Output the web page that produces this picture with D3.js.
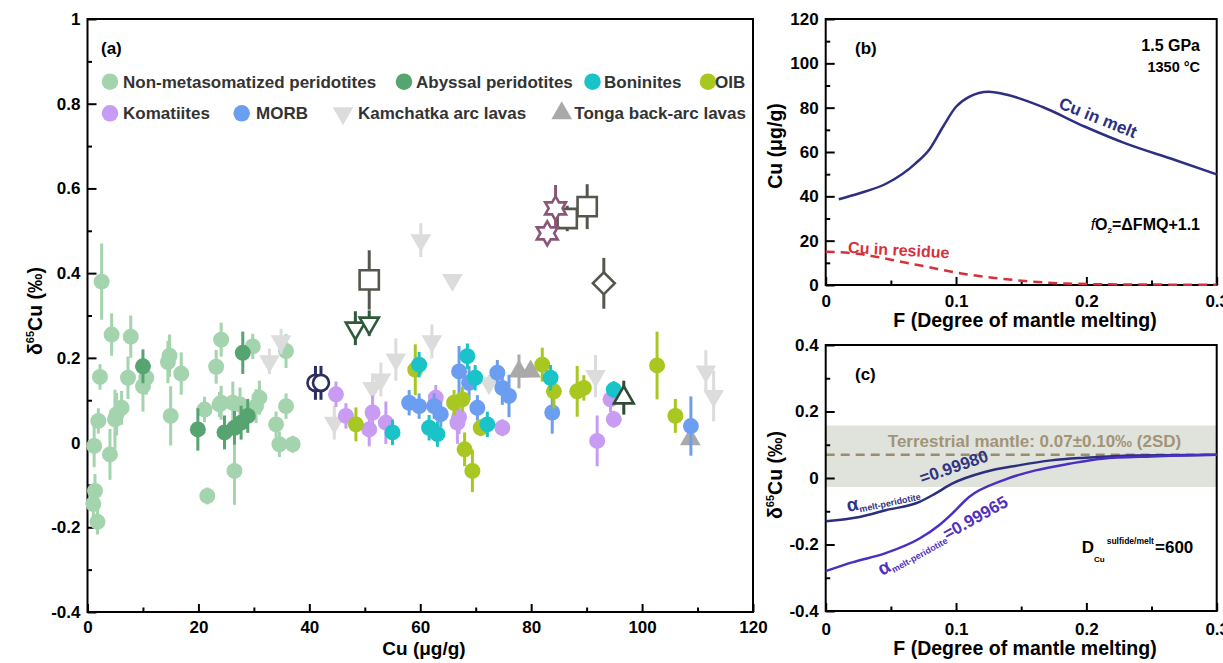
<!DOCTYPE html>
<html>
<head>
<meta charset="utf-8">
<script src="https://cdn.jsdelivr.net/npm/d3@7"></script>
<style>
body { margin: 0; background: #fff; }
svg { display: block; font-family: "Liberation Sans", Arial, sans-serif; font-weight: bold; }
</style>
</head>
<body>
<script>
// ---- panel (a) data: [Cu (ug/g), d65Cu (permil), error] ----
const nonMeta = [
  [2.55, 0.38, 0.09], [4.35, 0.255, 0.05], [7.8, 0.25, 0.05], [10.6, 0.153, 0.04], [10.0, 0.133, 0.06],
  [7.3, 0.153, 0.05], [2.25, 0.155, 0.03], [14.8, 0.205, 0.05], [14.5, 0.19, 0.05], [16.9, 0.163, 0.05],
  [15.0, 0.063, 0.07], [24.1, 0.243, 0.04], [23.2, 0.179, 0.04], [6.15, 0.082, 0.04], [5.25, 0.067, 0.05],
  [4.95, 0.055, 0.07], [1.95, 0.051, 0.03], [1.2, -0.008, 0.05], [4.05, -0.028, 0.06], [1.35, -0.114, 0.04],
  [1.05, -0.145, 0.04], [1.8, -0.187, 0.03], [21.6, -0.126, 0.02], [24.1, 0.094, 0.04], [26.5, -0.067, 0.08],
  [29.8, 0.227, 0.03], [35.8, 0.216, 0.04], [31.0, 0.106, 0.04], [30.4, 0.086, 0.04], [35.8, 0.086, 0.03],
  [34.0, 0.043, 0.03], [34.6, -0.004, 0.03], [37.0, -0.004, 0.02], [21.1, 0.078, 0.03], [23.8, 0.09, 0.03],
  [26.2, 0.094, 0.05], [27.5, 0.09, 0.04]
];
const abyssal = [
  [10.0, 0.18, 0.04], [28.0, 0.212, 0.05], [28.9, 0.063, 0.04], [27.7, 0.047, 0.04],
  [26.5, 0.035, 0.04], [19.9, 0.031, 0.05], [24.7, 0.024, 0.04]
];
const kamchatka = [
  [60.1, 0.478, 0.04], [65.8, 0.384, 0], [62.1, 0.239, 0.04], [55.6, 0.196, 0.05], [52.9, 0.149, 0.04],
  [51.4, 0.129, 0.03], [44.5, 0.047, 0.04], [34.9, 0.239, 0.03], [32.8, 0.192, 0.03], [91.6, 0.157, 0.05],
  [111.5, 0.168, 0.05], [112.9, 0.11, 0.06], [72.4, 0.14, 0.02]
];
const tonga = [[77.8, 0.168, 0.04], [79.9, 0.168, 0], [108.7, 0.008, 0]];
const komatiites = [
  [44.8, 0.114, 0.03], [46.6, 0.063, 0.03], [51.4, 0.071, 0.04], [50.8, 0.031, 0.04], [53.8, 0.047, 0.05],
  [62.8, 0.106, 0.03], [66.7, 0.047, 0.05], [74.8, 0.035, 0.02], [91.9, 0.004, 0.06], [94.3, 0.102, 0.03],
  [94.9, 0.055, 0.02], [67.0, 0.06, 0.04]
];
const morb = [
  [67.0, 0.168, 0.06], [68.8, 0.141, 0.04], [73.9, 0.165, 0.03], [74.8, 0.129, 0.04], [76.0, 0.11, 0.05],
  [58.0, 0.094, 0.03], [59.8, 0.086, 0.03], [62.5, 0.086, 0.03], [63.7, 0.067, 0.03], [70.3, 0.082, 0.03],
  [83.8, 0.071, 0.05], [108.8, 0.039, 0.07]
];
const oib = [
  [48.4, 0.043, 0.04], [59.1, 0.172, 0.06], [66.1, 0.094, 0.03], [67.6, 0.102, 0.03], [70.9, 0.035, 0.02],
  [68.0, -0.016, 0.04], [69.4, -0.067, 0.05], [82.0, 0.184, 0.04], [84.1, 0.121, 0.04], [88.3, 0.121, 0.06],
  [89.5, 0.129, 0.03], [102.7, 0.182, 0.08], [106.0, 0.063, 0.04]
];
const boninites = [
  [59.8, 0.184, 0.03], [68.5, 0.204, 0.03], [69.9, 0.153, 0.03], [55.0, 0.024, 0.03], [61.6, 0.035, 0.03],
  [63.1, 0.02, 0.03], [72.1, 0.043, 0.03], [83.5, 0.153, 0.03], [94.9, 0.125, 0.02]
];
// open symbols (other samples)
const openCircles = [[41.1, 0.141, 0.04], [42.1, 0.141, 0.04]];
const openDownTri = [[48.3, 0.27, 0.04], [50.8, 0.282, 0.03]];
const openSquares = [[50.8, 0.384, 0.07], [86.5, 0.529, 0.03], [90.1, 0.557, 0.053]];
const openStars = [[84.4, 0.553, 0.055], [82.9, 0.494, 0]];
const openDiamond = [[93.1, 0.376, 0.06]];
const openUpTri = [[96.7, 0.106, 0.04]];

// ---- panel (b): Cu vs F ----
const meltF = [0.01, 0.026, 0.047, 0.069, 0.08, 0.09, 0.1, 0.11, 0.125, 0.14, 0.166, 0.199, 0.23, 0.268, 0.3];
const meltCu = [38.7, 41.4, 45.9, 54.9, 61.5, 71.4, 80.4, 84.9, 87.2, 85.7, 80.4, 71.4, 63.9, 56.4, 49.9];
const residueF = [0, 0.026, 0.051, 0.077, 0.103, 0.128, 0.153, 0.179, 0.204, 0.25, 0.3];
const residueCu = [15, 14, 11.3, 8.3, 5.3, 3.3, 1.8, 0.8, 0.4, 0.2, 0.1];

// ---- panel (c): d65Cu of melt vs F ----
const alpha1F = [0, 0.026, 0.046, 0.072, 0.084, 0.097, 0.122, 0.148, 0.173, 0.199, 0.237, 0.3];
const alpha1D = [-0.13, -0.117, -0.097, -0.072, -0.047, -0.017, 0.018, 0.038, 0.053, 0.061, 0.068, 0.07];
const alpha2F = [0, 0.021, 0.046, 0.072, 0.087, 0.097, 0.11, 0.136, 0.161, 0.187, 0.212, 0.25, 0.3];
const alpha2D = [-0.28, -0.253, -0.226, -0.182, -0.142, -0.107, -0.057, -0.007, 0.023, 0.043, 0.058, 0.065, 0.07];
const mantleMean = 0.07;
const mantleBand = [-0.027, 0.158];

// ---- ticks ----
const xTicksA = [0, 20, 40, 60, 80, 100, 120];
const xMinorA = [10, 30, 50, 70, 90, 110];
const yTicksA = [-0.4, -0.2, 0, 0.2, 0.4, 0.6, 0.8, 1];
const yMinorA = [-0.3, -0.1, 0.1, 0.3, 0.5, 0.7, 0.9];
const xTicksF = [0, 0.1, 0.2, 0.3];
const xMinorF = [0.05, 0.15, 0.25];
const yTicksB = [0, 20, 40, 60, 80, 100, 120];
const yMinorB = [10, 30, 50, 70, 90, 110];
const yTicksC = [-0.4, -0.2, 0, 0.2, 0.4];
const yMinorC = [-0.3, -0.1, 0.1, 0.3];

const svg = d3.select("body").append("svg")
    .attr("width", 1223)
    .attr("height", 663);

const xA = d3.scaleLinear().domain([0, 120]).range([87.5, 753]);
const yA = d3.scaleLinear().domain([-0.4, 1]).range([612, 19]);
const xB = d3.scaleLinear().domain([0, 0.3]).range([825.7, 1216.7]);
const yB = d3.scaleLinear().domain([0, 120]).range([285, 19]);
const xC = d3.scaleLinear().domain([0, 0.3]).range([825.7, 1216.7]);
const yC = d3.scaleLinear().domain([-0.4, 0.4]).range([611, 345]);

const fmt = d => String(d);

function axes(x, y, xt, xm, yt, ym, xPad) {
    const g = svg.append("g");
    const bottom = y.range()[0], left = x.range()[0];
    const parts = [
        g.append("g").attr("transform", `translate(0,${bottom})`)
            .call(d3.axisBottom(x).tickValues(xt).tickSize(-8).tickPadding(xPad).tickFormat(fmt)),
        g.append("g").attr("transform", `translate(0,${bottom})`)
            .call(d3.axisBottom(x).tickValues(xm).tickSize(-4.5).tickFormat("")),
        g.append("g").attr("transform", `translate(${left},0)`)
            .call(d3.axisLeft(y).tickValues(yt).tickSize(-9).tickPadding(7).tickFormat(fmt)),
        g.append("g").attr("transform", `translate(${left},0)`)
            .call(d3.axisLeft(y).tickValues(ym).tickSize(-4.5).tickFormat(""))
    ];
    parts.forEach(p => {
        p.attr("font-size", 17).attr("font-family", null);
        p.select(".domain").remove();
        p.selectAll("line").attr("stroke-width", 2);
    });
    g.append("rect")
        .attr("x", left).attr("y", y.range()[1])
        .attr("width", x.range()[1] - left)
        .attr("height", bottom - y.range()[1])
        .attr("fill", "none").attr("stroke", "#000").attr("stroke-width", 2);
}

// marker shapes
function hexagram(R) {
    const pts = d3.range(12).map(i => [i * Math.PI / 6, i % 2 ? R * 0.577 : R]);
    return d3.lineRadial().curve(d3.curveLinearClosed)(pts);
}
const shapes = {
    circle: { d: d3.symbol(d3.symbolCircle, 200)(), rot: 0 },
    openCircle: { d: d3.symbol(d3.symbolCircle, 200)(), rot: 0 },
    down: { d: d3.symbol(d3.symbolTriangle, 185)(), rot: 180 },
    up: { d: d3.symbol(d3.symbolTriangle, 185)(), rot: 0 },
    openDown: { d: d3.symbol(d3.symbolTriangle, 160)(), rot: 180 },
    openUp: { d: d3.symbol(d3.symbolTriangle, 170)(), rot: 0 },
    square: { d: d3.symbol(d3.symbolSquare, 370)(), rot: 0 },
    diamond: { d: d3.symbol(d3.symbolSquare, 240)(), rot: 45 },
    star: { d: hexagram(12), rot: 0 },
    legendCircle: { d: d3.symbol(d3.symbolCircle, 215)(), rot: 0 }
};

function drawSeries(data, color, shape, open) {
    const pts = svg.append("g").selectAll("g").data(data).join("g");
    pts.filter(d => d[2] > 0).append("line")
        .attr("x1", d => xA(d[0])).attr("x2", d => xA(d[0]))
        .attr("y1", d => yA(d[1] - d[2])).attr("y2", d => yA(d[1] + d[2]))
        .attr("stroke", color).attr("stroke-width", 3);
    pts.append("path")
        .attr("transform", d => `translate(${xA(d[0])},${yA(d[1])}) rotate(${shapes[shape].rot})`)
        .attr("d", shapes[shape].d)
        .attr("fill", open ? "#fff" : color)
        .attr("stroke", open ? color : "none")
        .attr("stroke-width", 2.6);
}

// ===== panel (a) =====
axes(xA, yA, xTicksA, xMinorA, yTicksA, yMinorA, 9);

drawSeries(nonMeta, "#a3d4ad", "circle");
drawSeries(abyssal, "#56a470", "circle");
drawSeries(kamchatka, "#dcdcdc", "down");
drawSeries(tonga, "#a9a9a9", "up");
drawSeries(komatiites, "#c89cf2", "circle");
drawSeries(morb, "#6b9ef0", "circle");
drawSeries(oib, "#a8c720", "circle");
drawSeries(boninites, "#1ac3c8", "circle");
drawSeries(openCircles, "#2b2e5e", "openCircle", true);
drawSeries(openDownTri, "#2f5a3a", "openDown", true);
drawSeries(openSquares, "#55574f", "square", true);
drawSeries(openStars, "#8a5677", "star", true);
drawSeries(openDiamond, "#55574f", "diamond", true);
drawSeries(openUpTri, "#2f4a35", "openUp", true);

// legend
const legendItems = [
    { label: "Non-metasomatized peridotites", color: "#a3d4ad", shape: "legendCircle", x: 110, y: 81.7, tx: 123 },
    { label: "Abyssal peridotites", color: "#56a470", shape: "legendCircle", x: 404, y: 81.7, tx: 416 },
    { label: "Boninites", color: "#1ac3c8", shape: "legendCircle", x: 592.5, y: 81.7, tx: 604 },
    { label: "OIB", color: "#a8c720", shape: "legendCircle", x: 708, y: 81.7, tx: 715 },
    { label: "Komatiites", color: "#c89cf2", shape: "legendCircle", x: 110, y: 113.3, tx: 123 },
    { label: "MORB", color: "#6b9ef0", shape: "legendCircle", x: 241.7, y: 113.3, tx: 256 },
    { label: "Kamchatka arc lavas", color: "#dcdcdc", shape: "down", x: 343, y: 113.3, tx: 358 },
    { label: "Tonga back-arc lavas", color: "#a9a9a9", shape: "up", x: 561.7, y: 113.3, tx: 574.3 }
];
const leg = svg.append("g").selectAll("g").data(legendItems).join("g");
leg.append("path")
    .attr("transform", d => `translate(${d.x},${d.y}) rotate(${shapes[d.shape].rot})`)
    .attr("d", d => shapes[d.shape].d)
    .attr("fill", d => d.color);
leg.append("text")
    .attr("x", d => d.tx).attr("y", d => d.y + 6)
    .attr("font-size", 17).attr("fill", "#333")
    .text(d => d.label);

svg.append("text").attr("x", 101).attr("y", 54).attr("font-size", 17).text("(a)");

svg.append("text")
    .attr("x", 424).attr("y", 655)
    .attr("text-anchor", "middle").attr("font-size", 19)
    .text("Cu (μg/g)");

const yTitleA = svg.append("text")
    .attr("transform", "translate(42,311) rotate(-90)")
    .attr("text-anchor", "middle").attr("font-size", 19.5);
yTitleA.append("tspan").text("δ");
yTitleA.append("tspan").attr("font-size", 11).attr("dy", -8).text("65");
yTitleA.append("tspan").attr("dy", 8).text("Cu (‰)");

// ===== panel (b) =====
axes(xB, yB, xTicksF, xMinorF, yTicksB, yMinorB, 10);

const lineB = d3.line().curve(d3.curveMonotoneX);
svg.append("path")
    .attr("d", lineB(meltF.map((f, i) => [xB(f), yB(meltCu[i])])))
    .attr("fill", "none").attr("stroke", "#2d2f80").attr("stroke-width", 2.5);
svg.append("path")
    .attr("d", lineB(residueF.map((f, i) => [xB(f), yB(residueCu[i])])))
    .attr("fill", "none").attr("stroke", "#d8303b").attr("stroke-width", 2.5)
    .attr("stroke-dasharray", "9,6");

svg.append("text").attr("x", 855).attr("y", 54).attr("font-size", 17).text("(b)");
svg.append("text").attr("x", 1200).attr("y", 51).attr("text-anchor", "end")
    .attr("font-size", 16).text("1.5 GPa");
svg.append("text").attr("x", 1200).attr("y", 72).attr("text-anchor", "end")
    .attr("font-size", 14.5).text("1350 °C");
const fo2 = svg.append("text").attr("x", 1200).attr("y", 230).attr("text-anchor", "end")
    .attr("font-size", 16);
fo2.append("tspan").attr("font-style", "italic").attr("font-weight", "normal").text("f");
fo2.append("tspan").text("O");
fo2.append("tspan").attr("font-size", 8).attr("dy", 3).text("2");
fo2.append("tspan").attr("dy", -3).text("=ΔFMQ+1.1");
svg.append("text")
    .attr("transform", `translate(${xB(0.178)},${yB(80)}) rotate(22)`)
    .attr("font-size", 17).attr("fill", "#2d2f80").text("Cu in melt");
svg.append("text")
    .attr("transform", `translate(${xB(0.017)},${yB(14.5)}) rotate(3)`)
    .attr("font-size", 16).attr("fill", "#d8303b").text("Cu in residue");

svg.append("text")
    .attr("x", 1025).attr("y", 327)
    .attr("text-anchor", "middle").attr("font-size", 19.5)
    .text("F (Degree of mantle melting)");
svg.append("text")
    .attr("transform", "translate(782,146) rotate(-90)")
    .attr("text-anchor", "middle").attr("font-size", 19.5)
    .text("Cu (μg/g)");

// ===== panel (c) =====
svg.append("rect")
    .attr("x", xC(0)).attr("width", xC(0.3) - xC(0))
    .attr("y", yC(mantleBand[1])).attr("height", yC(mantleBand[0]) - yC(mantleBand[1]))
    .attr("fill", "#dfe3dc");
svg.append("line")
    .attr("x1", xC(0)).attr("x2", xC(0.3))
    .attr("y1", yC(mantleMean)).attr("y2", yC(mantleMean))
    .attr("stroke", "#9c8c6c").attr("stroke-width", 2.5).attr("stroke-dasharray", "9,6");

axes(xC, yC, xTicksF, xMinorF, yTicksC, yMinorC, 12);

svg.append("path")
    .attr("d", lineB(alpha1F.map((f, i) => [xC(f), yC(alpha1D[i])])))
    .attr("fill", "none").attr("stroke", "#2b2f7c").attr("stroke-width", 2.5);
svg.append("path")
    .attr("d", lineB(alpha2F.map((f, i) => [xC(f), yC(alpha2D[i])])))
    .attr("fill", "none").attr("stroke", "#4b2fc4").attr("stroke-width", 2.5);

svg.append("text").attr("x", 855).attr("y", 380).attr("font-size", 17).text("(c)");
svg.append("text")
    .attr("x", 1034.5).attr("y", 447).attr("text-anchor", "middle")
    .attr("font-size", 17).attr("fill", "#a39377")
    .text("Terrestrial mantle: 0.07±0.10‰ (2SD)");

const a1 = svg.append("text")
    .attr("transform", "translate(848,512) rotate(-12)")
    .attr("font-size", 19).attr("fill", "#2f3582");
a1.append("tspan").text("α");
a1.append("tspan").attr("font-size", 9).attr("dy", 3).text("melt-peridotite");
svg.append("text")
    .attr("transform", "translate(922,484) rotate(-19)")
    .attr("font-size", 17).attr("fill", "#2f3582").text("=0.99980");

const a2 = svg.append("text")
    .attr("transform", "translate(882,576) rotate(-29)")
    .attr("font-size", 19).attr("fill", "#5030c0");
a2.append("tspan").text("α");
a2.append("tspan").attr("font-size", 9).attr("dy", 3).text("melt-peridotite");
a2.append("tspan").attr("font-size", 17).attr("dy", -3).text("=0.99965");

svg.append("text").attr("x", 1081.7).attr("y", 553).attr("font-size", 17).text("D");
svg.append("text").attr("x", 1094).attr("y", 561.5).attr("font-size", 8).text("Cu");
svg.append("text").attr("x", 1106.7).attr("y", 544).attr("font-size", 8.5).text("sulfide/melt");
svg.append("text").attr("x", 1155).attr("y", 553).attr("font-size", 17).text("=600");

svg.append("text")
    .attr("x", 1025).attr("y", 655)
    .attr("text-anchor", "middle").attr("font-size", 19.5)
    .text("F (Degree of mantle melting)");
const yTitleC = svg.append("text")
    .attr("transform", "translate(782,475) rotate(-90)")
    .attr("text-anchor", "middle").attr("font-size", 19.5);
yTitleC.append("tspan").text("δ");
yTitleC.append("tspan").attr("font-size", 11).attr("dy", -8).text("65");
yTitleC.append("tspan").attr("dy", 8).text("Cu (‰)");
</script>
</body>
</html>
